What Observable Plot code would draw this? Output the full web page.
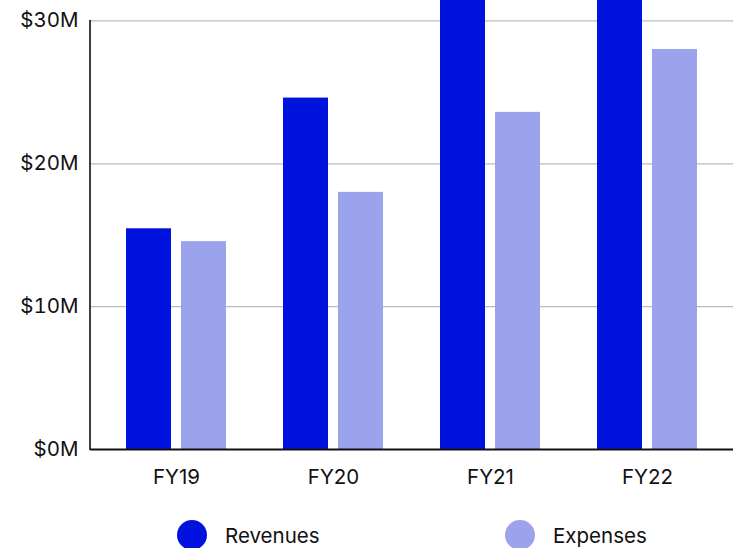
<!DOCTYPE html>
<html>
<head>
<meta charset="utf-8">
<script src="https://cdn.jsdelivr.net/npm/d3@7"></script>
<script src="https://cdn.jsdelivr.net/npm/@observablehq/plot@0.6"></script>
<style>
  html, body { margin: 0; padding: 0; background: #fff; overflow: hidden; }
  body { width: 733px; height: 548px; font-family: Inter, "Noto Sans", sans-serif; }
  #chart svg { display: block; }
  .legend { position: relative; height: 48px; font-size: 20.5px; color: #111; }
  .legend .item { position: absolute; top: 20px; display: flex; align-items: center; }
  .legend .dot { width: 30px; height: 30px; border-radius: 50%; margin-right: 18px; }
</style>
</head>
<body>
<div id="chart"></div>
<div class="legend" id="legend"></div>
<script>
const years = ["FY19", "FY20", "FY21", "FY22"];
const revenues = [15.45, 24.6, 33.5, 36.0];
const expenses = [14.55, 18.0, 23.6, 28.0];
const seriesNames = ["Revenues", "Expenses"];
const seriesColors = ["#0013DE", "#9BA3ED"];
const yTicks = [0, 10, 20, 30];

const rows = years.map((y, i) => ({year: y, revenue: revenues[i], expense: expenses[i]}));

const axisLine = (index, scales, values, dims) => {
  const g = d3.create("svg:g");
  g.append("line")
    .attr("x1", dims.marginLeft).attr("x2", dims.marginLeft)
    .attr("y1", scales.y(30) - 0.5).attr("y2", scales.y(0) + 1)
    .attr("stroke", "#111").attr("stroke-width", 1.6);
  return g.node();
};

const plot = Plot.plot({
  width: 733,
  height: 500,
  marginLeft: 90,
  marginRight: 0,
  marginTop: 0,
  marginBottom: 51,
  style: {fontFamily: "Inter, 'Noto Sans', sans-serif", fontSize: "20.5px", color: "#111", background: "#fff"},
  x: {domain: years, paddingInner: 0.363, paddingOuter: 0.229, label: null},
  y: {domain: [0, 31.43], label: null},
  marks: [
    Plot.ruleY(yTicks.slice(1), {stroke: "#bbb", strokeWidth: 1.2}),
    Plot.barY(rows, {x: "year", y: "revenue", fill: seriesColors[0], insetRight: 55, insetLeft: 0, clip: true}),
    Plot.barY(rows, {x: "year", y: "expense", fill: seriesColors[1], insetLeft: 55, insetRight: 0, clip: true}),
    Plot.axisY({ticks: yTicks, tickSize: 0, tickPadding: 12, tickFormat: d => `$${d}M`, label: null}),
    Plot.axisX({tickSize: 0, tickPadding: 20, label: null}),
    axisLine,
    Plot.ruleY([0], {stroke: "#111", strokeWidth: 2.2})
  ]
});
document.getElementById("chart").appendChild(plot);

const legend = document.getElementById("legend");
const legendX = [177, 505];
seriesNames.forEach((name, i) => {
  const item = document.createElement("div");
  item.className = "item";
  item.style.left = legendX[i] + "px";
  item.innerHTML = `<span class="dot" style="background:${seriesColors[i]}"></span><span>${name}</span>`;
  legend.appendChild(item);
});
</script>
</body>
</html>
